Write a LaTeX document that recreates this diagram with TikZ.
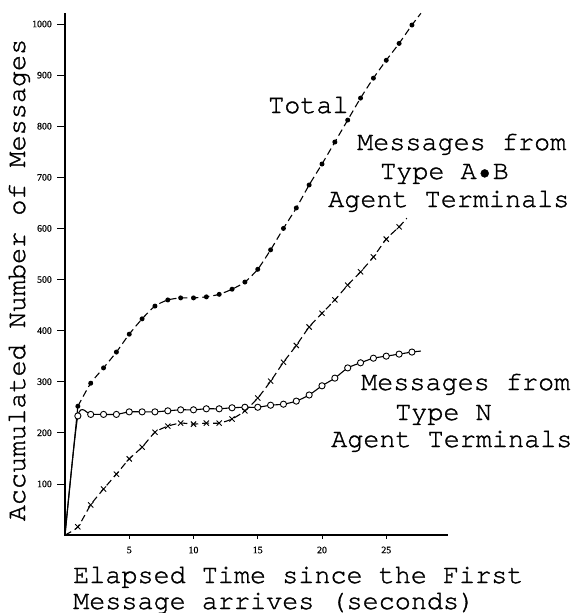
\documentclass[tikz,border=0pt]{standalone}
\usepackage{fontspec}
\setmainfont{Liberation Serif}
\newfontfamily\typew[FakeBold=1.2]{TeX Gyre Cursor}
\newfontfamily\tickfont[FakeBold=0.8]{Liberation Serif}
\begin{document}
\begin{tikzpicture}[x=1pt,y=-1pt]
\useasboundingbox (0,0) rectangle (578,613);
\tikzset{
  lbl/.style={font=\typew\fontsize{26.8}{28}\selectfont, anchor=base west, inner sep=0pt},
  ticklbl/.style={font=\tickfont\fontsize{9.8}{10}\selectfont, inner sep=0pt},
  axisline/.style={line width=1.2pt},
  curve/.style={line width=1.1pt},
  dashcurve/.style={curve, dash pattern=on 7pt off 4pt},
  dotmark/.style={fill=black},
  ringmark/.style={draw=black, fill=white, line width=0.9pt},
  crossmark/.style={line width=0.9pt}
}
\begin{scope}[shift={(65,535)}, x=12.85pt, y=0.511pt]
  % axes
  \draw[axisline] (0,1021) coordinate (ytop) -- (0,0) coordinate (orig) -- (29.8,0) coordinate (xend);
  \foreach \v in {100,200,...,1000}{
    \draw[line width=0.7pt] (0,\v) -- ++(-8pt,0);
    \node[ticklbl, anchor=east] at ([xshift=-13pt]0,\v) {\v};
  }
  \foreach \t in {5,10,...,25}{
    \draw[line width=0.7pt] (\t,0) -- ++(0,-4pt);
    \node[ticklbl] at ([yshift=-15pt]\t,0) {\t};
  }
  % Type N curve (solid, open circles)
  \draw[curve] plot[smooth, tension=0.4] coordinates {(0,0) (1,233) (2,236) (3,236) (4,236) (5,241) (6,241) (7,241) (8,243) (9,245) (10,245) (11,247) (12,247) (13,249) (14,250) (15,250) (16,254) (17,256) (18,262) (19,274) (20,292) (21,307) (22,327) (23,337) (24,346) (25,350) (26,354) (27,358) (27.7,360)};
  % Type A.B curve (dashed, crosses)
  \draw[dashcurve] plot[smooth, tension=0.4] coordinates {(0,0) (1,16) (2,59) (3,90) (4,119) (5,149) (6,172) (7,201) (8,213) (9,219) (10,217) (11,219) (12,219) (13,227) (14,243) (15,268) (16,301) (17,338) (18,371) (19,407) (20,434) (21,460) (22,489) (23,515) (24,544) (25,579) (26,603) (26.6,620)};
  % Total curve
  \draw[curve] (0,0) -- (1,252);
  \draw[dashcurve] plot[smooth, tension=0.4] coordinates {(1,252) (2,297) (3,327) (4,358) (5,393) (6,423) (7,448) (8,460) (9,464) (10,464) (11,466) (12,471) (13,481) (14,495) (15,520) (16,558) (17,600) (18,640) (19,685) (20,726) (21,769) (22,812) (23,855) (24,894) (25,929) (26,962) (27,998) (27.7,1021)};
  % markers
  \foreach \t/\v in {1/233,2/236,3/236,4/236,5/241,6/241,7/241,8/243,9/245,10/245,11/247,12/247,13/249,14/250,15/250,16/254,17/256,18/262,19/274,20/292,21/307,22/327,23/337,24/346,25/350,26/354,27/358}
    \filldraw[ringmark] (\t,\v) circle[radius=3.1pt];
  \foreach \t/\v in {1/16,2/59,3/90,4/119,5/149,6/172,7/201,8/213,9/219,10/217,11/219,12/219,13/227,14/243,15/268,16/301,17/338,18/371,19/407,20/434,21/460,22/489,23/515,24/544,25/579,26/603}{
    \draw[crossmark] ([shift={(-2.6pt,-2.6pt)}]\t,\v) -- ([shift={(2.6pt,2.6pt)}]\t,\v);
    \draw[crossmark] ([shift={(-2.6pt,2.6pt)}]\t,\v) -- ([shift={(2.6pt,-2.6pt)}]\t,\v);
  }
  \foreach \t/\v in {1/252,2/297,3/327,4/358,5/393,6/423,7/448,8/460,9/464,10/464,11/466,12/471,13/481,14/495,15/520,16/558,17/600,18/640,19/685,20/726,21/769,22/812,23/855,24/894,25/929,26/962,27/998}
    \fill[dotmark] (\t,\v) circle[radius=2.5pt];
\end{scope}
% labels
\node[lbl] (total) at (268,113) {Total};
\node[lbl] (ab1) at (357,150) {Messages from};
\node[lbl] (ab2) at (380,179) {Type A•B};
\node[lbl] (ab3) at (328,207) {Agent Terminals};
\node[lbl] (n1) at (361,390) {Messages from};
\node[lbl] (n2) at (395,420) {Type N};
\node[lbl] (n3) at (331,447) {Agent Terminals};
\node[lbl] (xl1) at (73,583) {Elapsed Time since the First};
\node[lbl] (xl2) at (73,609) {Message arrives (seconds)};
\node[lbl, rotate=90, anchor=base] (yl) at (25,280) {Accumulated Number of Messages};
\end{tikzpicture}
\end{document}
